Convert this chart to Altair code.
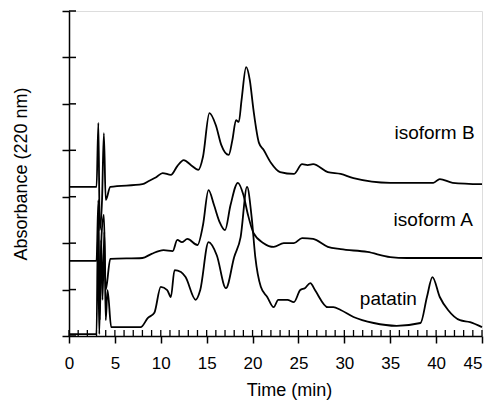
import altair as alt
import pandas as pd

# ---- data (time in min, absorbance in arbitrary tick units) ----
iso_b_t = [0, 3.0, 3.2, 3.35, 3.6, 3.8, 4.0, 4.5, 8.0, 8.7, 9.5, 10.2, 11.1, 11.8, 12.5, 13.3,
           14.1, 14.6, 15.3, 16.0, 16.6, 17.4, 17.8, 18.2, 18.5, 18.8, 19.3, 19.7, 20.1, 20.7,
           21.2, 22.0, 23.0, 24.5, 25.4, 26.0, 26.6, 28.2, 29.6, 31.0, 35.0, 39.7, 40.4, 41.8, 45]
iso_b_y = [3.21, 3.21, 4.59, 2.28, 2.93, 4.37, 2.93, 3.21, 3.27, 3.34, 3.42, 3.51, 3.47, 3.66, 3.79, 3.68,
           3.58, 3.86, 4.80, 4.54, 4.11, 3.90, 4.22, 4.65, 4.61, 5.08, 5.79, 5.51, 4.87, 4.16,
           4.01, 3.73, 3.53, 3.49, 3.70, 3.68, 3.70, 3.53, 3.49, 3.40, 3.30, 3.30, 3.38, 3.30, 3.27]

iso_a_t = [0, 3.0, 3.2, 3.35, 3.55, 3.8, 4.0, 4.5, 8.0, 9.0, 10.3, 11.3, 11.8, 12.3, 12.9, 14.0,
           14.6, 15.2, 15.8, 16.4, 17.0, 17.6, 18.4, 19.0, 19.5, 20.1, 21.2, 22.3, 23.4, 24.5,
           25.4, 26.6, 28.2, 29.6, 32.5, 35.0, 36.8, 45]
iso_a_y = [1.62, 1.62, 2.93, 0.34, 2.18, 2.61, 0.99, 1.66, 1.68, 1.77, 1.85, 1.83, 2.07, 2.02, 2.09, 1.96,
           2.39, 3.14, 2.82, 2.46, 2.28, 2.82, 3.30, 3.04, 2.61, 2.22, 2.00, 1.92, 2.00, 2.00,
           2.11, 2.09, 1.92, 1.87, 1.81, 1.70, 1.68, 1.68]

pat_t = [0, 3.0, 3.15, 3.3, 3.5, 3.65, 3.85, 4.0, 4.2, 4.6, 7.8, 8.6, 9.3, 10.0, 10.7, 11.1,
         11.5, 12.2, 12.7, 13.8, 14.3, 15.2, 16.1, 17.1, 18.0, 18.7, 19.4, 19.9, 20.3, 20.9,
         21.6, 22.3, 22.8, 23.8, 24.5, 25.2, 25.7, 26.3, 26.8, 28.2, 28.8, 29.6, 31.0, 33.2,
         35.7, 38.3, 39.0, 39.6, 40.4, 41.3, 42.6, 43.7, 45]
pat_y = [0.04, 0.04, 2.28, 0.04, 2.07, 0.78, 2.24, 0.34, 0.99, 0.19, 0.19, 0.39, 0.50, 1.06, 0.99, 0.84,
         1.42, 1.38, 1.27, 0.78, 0.99, 2.02, 1.74, 1.03, 1.70, 2.13, 3.21, 2.56, 1.70, 1.06,
         0.84, 0.62, 0.78, 0.78, 0.73, 0.99, 1.03, 1.14, 0.99, 0.62, 0.62, 0.56, 0.41, 0.28,
         0.22, 0.28, 0.84, 1.27, 0.84, 0.56, 0.34, 0.30, 0.19]

label_text = ["isoform B", "isoform A", "patatin"]
label_t = [44.2, 44.0, 34.8]
label_y = [4.37, 2.50, 0.80]
label_align = ["right", "right", "center"]

x_major = [0, 5, 10, 15, 20, 25, 30, 35, 40, 45]
x_minor = list(range(0, 46))
y_ticks = [0, 1, 2, 3, 4, 5, 6, 7]

W, H = 413, 325
FONT = "Liberation Sans"

rows = []
for name, ts, ys in [("isoform B", iso_b_t, iso_b_y), ("isoform A", iso_a_t, iso_a_y), ("patatin", pat_t, pat_y)]:
    for i, (t, y) in enumerate(zip(ts, ys)):
        rows.append({"series": name, "t": t, "y": y, "i": i})
df = pd.DataFrame(rows)

xs = alt.Scale(domain=[0, 45], nice=False, zero=False)
ys = alt.Scale(domain=[0, 7], nice=False, zero=False)

lines = alt.Chart(df).mark_line(color="black", strokeWidth=1.8, interpolate="monotone").encode(
    x=alt.X("t:Q", scale=xs, axis=alt.Axis(
        values=x_major, tickSize=7, tickColor="black", tickWidth=1.5, domainColor="black",
        domainWidth=1.5, labelFont=FONT, labelFontSize=17, labelColor="black", labelPadding=12,
        labelAlign={"condition": {"test": "datum.value == 45", "value": "right"}, "value": "center"},
        grid=False, title="Time (min)", titleFont=FONT, titleFontSize=18, titleFontWeight="normal",
        titleColor="black", titlePadding=10, titleX=220, labelFlush=False)),
    y=alt.Y("y:Q", scale=ys, axis=alt.Axis(
        values=y_ticks, tickSize=7, tickColor="black", tickWidth=1.5, domainColor="black",
        domainWidth=1.5, labels=False, grid=False, title="Absorbance (220 nm)", titleFont=FONT,
        titleFontSize=18, titleFontWeight="normal", titleColor="black", titlePadding=31)),
    detail="series:N",
    order="i:Q",
)

lab_df = pd.DataFrame({"text": label_text, "t": label_t, "y": label_y, "align": label_align})
labels_r = alt.Chart(lab_df[lab_df["align"] == "right"]).mark_text(
    font=FONT, fontSize=19, color="black", align="right", baseline="middle").encode(
    x=alt.X("t:Q", scale=xs), y=alt.Y("y:Q", scale=ys), text="text:N")
labels_c = alt.Chart(lab_df[lab_df["align"] == "center"]).mark_text(
    font=FONT, fontSize=19, color="black", align="center", baseline="middle").encode(
    x=alt.X("t:Q", scale=xs), y=alt.Y("y:Q", scale=ys), text="text:N")

xt_df = pd.DataFrame({"t": x_minor})
x_in = alt.Chart(xt_df).mark_rule(color="black", strokeWidth=1.3).encode(
    x=alt.X("t:Q", scale=xs), y=alt.value(H - 6), y2=alt.value(H))

yt_df = pd.DataFrame({"y": y_ticks})
y_in = alt.Chart(yt_df).mark_rule(color="black", strokeWidth=1.5).encode(
    y=alt.Y("y:Q", scale=ys), x=alt.value(0), x2=alt.value(7))

chart = alt.layer(lines, labels_r, labels_c, x_in, y_in).properties(
    width=W, height=H,
    autosize=alt.AutoSizeParams(type="none"),
    padding={"left": 61, "top": 3, "right": 3, "bottom": 65},
).configure_view(stroke="black", strokeWidth=1.5).configure(background="white")

chart.save("out.html", embed_options={"renderer": "svg", "actions": False})
